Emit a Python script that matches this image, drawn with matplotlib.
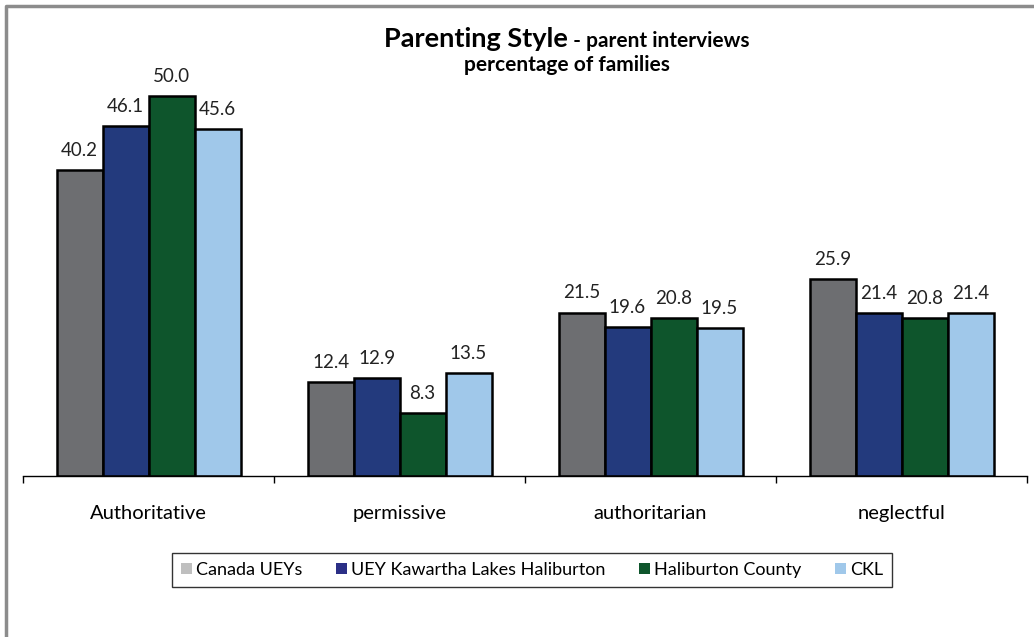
import matplotlib.pyplot as plt
from matplotlib.patches import Patch
from matplotlib.lines import Line2D
import numpy as np

# Daten
categories = ['Authoritative', 'permissive', 'authoritarian', 'neglectful']
series_names = ['Canada UEYs', 'UEY Kawartha Lakes Haliburton', 'Haliburton County', 'CKL']
canada = [40.2, 12.4, 21.5, 25.9]
uey_klh = [46.1, 12.9, 19.6, 21.4]
haliburton = [50.0, 8.3, 20.8, 20.8]
ckl = [45.6, 13.5, 19.5, 21.4]
values = [canada, uey_klh, haliburton, ckl]

bar_colors = ['#6d6e71', '#233a7d', '#0e552c', '#a0c8ea']
legend_colors = ['#bfbfbf', '#2b2f86', '#0e552c', '#a0c8ea']

plt.rcParams['font.family'] = ['Lato', 'DejaVu Sans']

W, H = 1034, 637
fig = plt.figure(figsize=(W / 100, H / 100), dpi=100)

# Rahmen links und oben
fig.add_artist(Line2D([6 / W, 6 / W, 1.0], [0.0, 1 - 6 / H, 1 - 6 / H],
                      transform=fig.transFigure, color='#8c8c8c', lw=2.5))

ax = fig.add_axes([23 / W, 1 - 476 / H, (1027 - 23) / W, (476 - 58) / H])
ax.set_xlim(-0.5, 3.5)
ax.set_ylim(0, 55)

x = np.arange(len(categories))
width = 46 / 251
for i, (vals, col) in enumerate(zip(values, bar_colors)):
    pos = x + (i - 1.5) * width
    ax.bar(pos, vals, width=width, color=col, edgecolor='black', linewidth=1.8)
    for px, v in zip(pos, vals):
        ax.annotate(f'{v:.1f}', (px, v), xytext=(0, 8), textcoords='offset points',
                    ha='center', va='bottom', fontsize=13.5, color='#222222')

for s in ['top', 'right', 'left']:
    ax.spines[s].set_visible(False)
ax.spines['bottom'].set_linewidth(1)
ax.set_yticks([])
ax.set_xticks(np.arange(-0.5, 4, 1))
ax.set_xticklabels([])
ax.tick_params(axis='x', which='major', length=5, direction='out', width=1)
ax.set_xticks(x, minor=True)
ax.set_xticklabels(categories, minor=True, fontsize=14.5)
ax.tick_params(axis='x', which='minor', length=0, pad=21)

# Titel: zwei Teile in einer Zeile, zusammen zentriert
renderer = fig.canvas.get_renderer()
t1 = fig.text(0, 1 - 47 / H, 'Parenting Style', fontsize=19.5, fontweight='bold',
              ha='left', va='baseline')
t2 = fig.text(0, 1 - 47 / H, ' - parent interviews', fontsize=15, fontweight='bold',
              ha='left', va='baseline')
w1 = t1.get_window_extent(renderer).width
w2 = t2.get_window_extent(renderer).width
start = 567 - (w1 + w2) / 2
t1.set_x(start / W)
t2.set_x((start + w1) / W)
fig.text(567 / W, 1 - 71 / H, 'percentage of families', fontsize=15, fontweight='bold',
         ha='center', va='baseline')

handles = [Patch(facecolor=c, edgecolor='none') for c in legend_colors]
leg = fig.legend(handles, series_names, loc='center', ncol=4,
                 bbox_to_anchor=(532 / W, 1 - 570 / H), bbox_transform=fig.transFigure,
                 fontsize=13, frameon=True, fancybox=False, edgecolor='black',
                 handlelength=0.6, handleheight=0.6, handletextpad=0.2,
                 columnspacing=1.9, borderpad=0.5)
leg.get_frame().set_linewidth(1)

fig.savefig('out.png', dpi=100)
